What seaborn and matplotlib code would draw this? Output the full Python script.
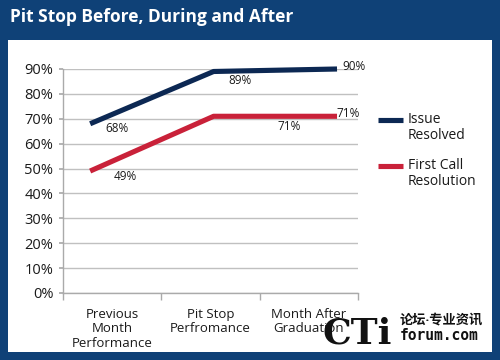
import matplotlib
matplotlib.use("Agg")
import matplotlib.pyplot as plt
import matplotlib.patches as mpatches
from matplotlib.lines import Line2D
import seaborn as sns
import pandas as pd

categories = ["Previous\nMonth\nPerformance", "Pit Stop\nPerfromance", "Month After\nGraduation"]
issue_resolved = [0.68, 0.89, 0.90]
first_call = [0.49, 0.71, 0.71]
series_names = ["Issue\nResolved", "First Call\nResolution"]
yticks = [0, 0.1, 0.2, 0.3, 0.4, 0.5, 0.6, 0.7, 0.8, 0.9]
title = "Pit Stop Before, During and After"

sns.set_theme(style="white")
plt.rcParams['font.family'] = ['Open Sans', 'Noto Sans CJK SC', 'DejaVu Sans']

df = pd.DataFrame({
    "cat": list(range(3)) * 2,
    "value": issue_resolved + first_call,
    "series": [series_names[0]] * 3 + [series_names[1]] * 3,
})

blue_frame = "#0f4177"
navy = "#0c2853"
red = "#c92139"
txt = "#1a1a1a"

fig = plt.figure(figsize=(5, 3.6), dpi=100)
fig.patch.set_facecolor(blue_frame)
fig.patches.append(mpatches.Rectangle((8/500, 1-352/360), 484/500, 312/360,
                                      transform=fig.transFigure, facecolor="white",
                                      edgecolor="none", zorder=-10))
fig.text(10/500, 1-17/360, title, color="white", fontsize=12.5, fontweight="bold",
         va="center", ha="left")

# category / grid axes
ax = fig.add_axes([63/500, 1-293/360, 295/500, (293-69)/360])
ax.set_zorder(5)
ax.set_facecolor("none")
ax.set_xlim(-0.5, 2.5)
ax.set_ylim(0, 0.9)
ax.set_yticks(yticks)
ax.set_yticklabels([f"{int(round(v*100))}%" for v in yticks], fontsize=10.5, color=txt)
ax.set_xticks(range(3))
ax.set_xticklabels(categories, fontsize=9.5, linespacing=1.12, color=txt)
ax.set_xticks([-0.5, 0.5, 1.5, 2.5], minor=True)
ax.tick_params(axis="x", which="major", length=0, pad=11)
ax.tick_params(axis="x", which="minor", length=5, color="#aaaaaa", direction="out", bottom=True, width=1)
ax.tick_params(axis="y", length=3, color="#aaaaaa", left=True, pad=4)
ax.grid(axis="y", color="#c0c0c0", linewidth=1)
ax.set_axisbelow(True)
for s in ["top", "right"]:
    ax.spines[s].set_visible(False)
for s in ["left", "bottom"]:
    ax.spines[s].set_color("#aaaaaa")
    ax.spines[s].set_linewidth(1)

# line axes (series plotted on their own x scale, as in the original)
axl = ax.twiny()
axl.set_facecolor("none")
sns.lineplot(data=df, x="cat", y="value", hue="series",
             palette=[navy, red], linewidth=3.7, ax=axl, legend=False)
for l in axl.lines:
    l.set_clip_on(False)
    l.set_solid_capstyle("butt")
axl.set_xlim(-0.22, 2.17)
axl.set_ylim(0, 0.9)
axl.xaxis.set_visible(False)
axl.set_xlabel("")
for s in axl.spines.values():
    s.set_visible(False)
ax.set_xlabel("")
ax.set_ylabel("")

# data labels (offsets in pixels)
offsets_issue = [(27, -5), (26, -9), (17, 3)]
offsets_fc = [(35, -5), (76, -10), (11, 3)]
for vals, offs in ((issue_resolved, offsets_issue), (first_call, offsets_fc)):
    for i, v in enumerate(vals):
        dx, dy = offs[i]
        axl.annotate(f"{int(round(v*100))}%", (i, v), xytext=(dx, dy), textcoords="offset pixels",
                     fontsize=8.5, ha="center", va="center", color=txt, annotation_clip=False)

# legend (swatch aligned with first line of each label)
colors = [navy, red]
ys = [120, 166]
for name, c, y in zip(series_names, colors, ys):
    fig.add_artist(Line2D([378/500, 403/500], [1-y/360, 1-y/360], color=c, lw=3.7,
                          transform=fig.transFigure, solid_capstyle="butt"))
    fig.text(408/500, 1-(y-8)/360, name, fontsize=10, color=txt, va="top", ha="left",
             linespacing=1.05)

# watermark
fig.text(322/500, 1-333/360, "CTi", fontsize=26, family="DejaVu Serif", fontweight="bold",
         color="#111111", va="center", ha="left", zorder=10)
fig.text(400/500, 1-320/360, "论坛·专业资讯", fontsize=9.5, color="#111111", va="center", ha="left",
         fontweight="bold", zorder=10)
fig.text(400/500, 1-336/360, "forum.com", fontsize=10.5, color="#111111", va="center", ha="left",
         family="DejaVu Sans Mono", fontweight="bold", zorder=10)

fig.savefig("out.png", dpi=100, facecolor=fig.get_facecolor())
